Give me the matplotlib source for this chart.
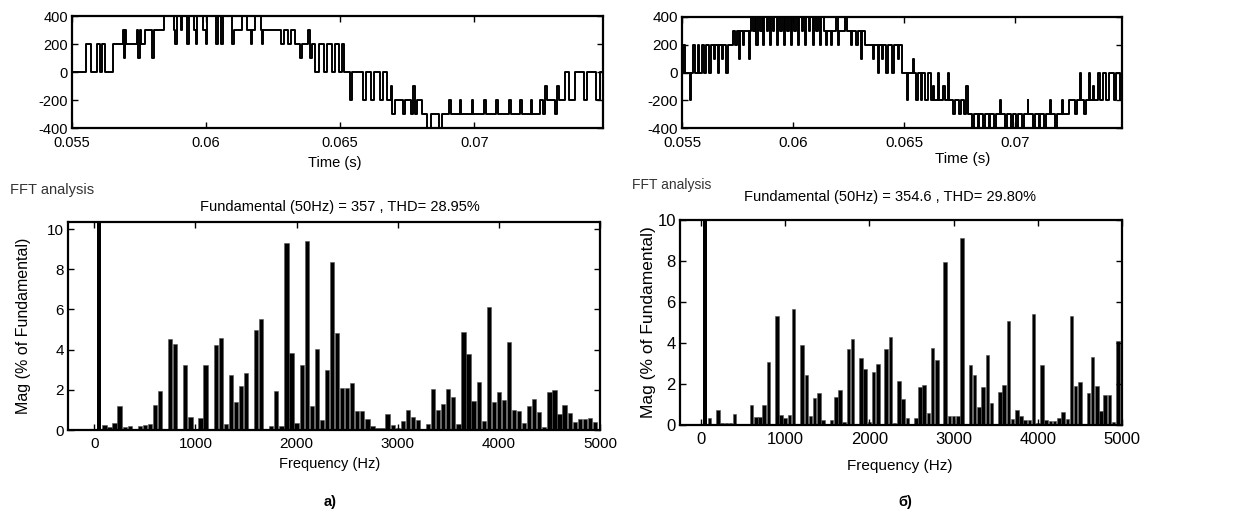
import numpy as np
import matplotlib
matplotlib.use("Agg")
import matplotlib.pyplot as plt

plt.rcParams['font.family'] = ['Liberation Sans', 'DejaVu Sans']
plt.rcParams['axes.unicode_minus'] = False

# ---- waveform a): step times (ms after 0.055 s) and levels (V)
wave_a_ms = [0.00, 0.54, 0.70, 0.93, 1.05, 1.12, 1.22, 1.54, 1.90, 1.94,
             1.99, 2.03, 2.43, 2.47, 2.53, 2.58, 2.74, 2.98, 3.05, 3.44,
             3.80, 3.85, 3.90, 4.05, 4.11, 4.30, 4.35, 4.56, 4.62, 4.66,
             4.87, 5.00, 5.05, 5.38, 5.44, 5.56, 5.62, 5.98, 6.03, 6.33,
             6.52, 6.68, 6.73, 6.84, 7.03, 7.07, 7.12, 7.78, 7.90, 8.05,
             8.15, 8.30, 8.50, 8.56, 8.80, 8.88, 8.95, 9.05, 9.20, 9.40,
             9.50, 9.70, 9.80, 9.95, 10.05, 10.15, 10.35, 10.45, 10.85, 10.95,
             11.15, 11.25, 11.50, 11.60, 11.75, 11.88, 11.95, 12.05, 12.35, 12.42,
             12.65, 12.72, 12.80, 12.88, 13.05, 13.25, 13.40, 13.70, 13.78, 14.05,
             14.12, 14.45, 14.52, 14.90, 14.97, 15.35, 15.42, 15.80, 15.87, 16.30,
             16.37, 16.70, 16.77, 17.10, 17.17, 17.45, 17.55, 17.65, 17.72, 18.00,
             18.08, 18.15, 18.40, 18.55, 18.75, 19.10, 19.20, 19.55, 19.70, 19.95,
             20.00]
wave_a_v = [0, 200, 0, 200, 0, 200, 0, 200, 300, 100,
            300, 200, 300, 100, 300, 200, 300, 100, 300, 400,
            300, 200, 400, 300, 400, 200, 400, 300, 200, 400,
            300, 200, 400, 200, 400, 200, 400, 200, 300, 400,
            300, 200, 300, 400, 300, 200, 300, 200, 300, 200,
            300, 200, 100, 200, 300, 100, 200, 0, 200, 0,
            200, 0, 200, 0, 200, 0, -200, 0, -200, 0,
            -200, 0, -200, 0, -200, -100, -300, -200, -300, -200,
            -300, -100, -300, -200, -300, -400, -300, -400, -300, -200,
            -300, -200, -300, -200, -300, -200, -300, -200, -300, -200,
            -300, -200, -300, -200, -300, -200, -300, -100, -200, -300,
            -100, -200, 0, -200, 0, -200, 0, -200, 0, -200,
            -200]

# ---- waveform б)
wave_b_ms = [0.00, 0.06, 0.14, 0.36, 0.40, 0.50, 0.58, 0.70, 0.76, 0.88,
             0.98, 1.08, 1.20, 1.30, 1.42, 1.48, 1.60, 1.66, 1.80, 1.85,
             2.00, 2.06, 2.30, 2.40, 2.46, 2.55, 2.60, 2.75, 2.80, 3.00,
             3.05, 3.10, 3.18, 3.28, 3.34, 3.40, 3.52, 3.58, 3.66, 3.71,
             3.82, 3.88, 3.96, 4.01, 4.10, 4.16, 4.26, 4.31, 4.42, 4.48,
             4.58, 4.63, 4.74, 4.80, 4.90, 4.95, 5.05, 5.12, 5.22, 5.27,
             5.38, 5.44, 5.55, 5.60, 5.72, 5.78, 5.88, 5.93, 6.05, 6.12,
             6.22, 6.27, 6.40, 6.48, 6.53, 6.70, 6.75, 6.95, 7.02, 7.07,
             7.35, 7.42, 7.60, 7.65, 7.85, 7.90, 8.05, 8.12, 8.25, 8.60,
             8.66, 8.80, 8.88, 9.00, 9.06, 9.20, 9.28, 9.45, 9.55, 9.70,
             9.76, 9.90, 10.12, 10.18, 10.40, 10.44, 10.55, 10.62, 10.75, 10.82,
             10.95, 11.05, 11.20, 11.30, 11.36, 11.50, 11.58, 11.75, 11.82, 11.95,
             12.00, 12.20, 12.28, 12.45, 12.55, 12.70, 12.80, 12.85, 13.05, 13.12,
             13.30, 13.38, 13.55, 13.62, 13.80, 13.88, 14.05, 14.12, 14.30, 14.34,
             14.55, 14.62, 14.80, 14.88, 15.05, 15.12, 15.30, 15.38, 15.55, 15.59,
             15.80, 15.88, 16.05, 16.12, 16.30, 16.38, 16.55, 16.59, 16.80, 16.88,
             17.10, 17.14, 17.40, 17.70, 17.76, 17.90, 17.95, 18.10, 18.16, 18.30,
             18.36, 18.50, 18.56, 18.70, 18.80, 18.95, 19.10, 19.20, 19.45, 19.55,
             19.70, 19.78, 19.95, 20.00]
wave_b_v = [0, 200, 0, -200, 0, 200, 0, 200, 0, 200,
            0, 200, 0, 200, 100, 200, 0, 200, 100, 200,
            0, 200, 300, 200, 300, 100, 300, 200, 300, 100,
            300, 400, 300, 400, 200, 400, 300, 400, 200, 400,
            300, 400, 200, 400, 300, 400, 200, 400, 300, 400,
            200, 400, 300, 400, 200, 400, 300, 400, 200, 400,
            300, 400, 200, 400, 300, 400, 200, 400, 300, 400,
            200, 400, 300, 200, 300, 200, 300, 400, 200, 300,
            400, 300, 200, 300, 200, 300, 100, 300, 200, 100,
            200, 0, 200, 100, 200, 0, 200, 0, 200, 100,
            200, 0, -200, 0, 100, 0, -200, 0, -200, 0,
            -200, 0, -200, -100, -200, 0, -200, -100, -200, 0,
            -200, -300, -200, -300, -200, -300, -100, -300, -400, -300,
            -400, -300, -400, -300, -400, -300, -400, -300, -200, -300,
            -400, -300, -400, -300, -400, -300, -400, -300, -200, -300,
            -400, -300, -400, -300, -400, -300, -200, -300, -400, -300,
            -200, -300, -200, -300, -200, 0, -200, -300, -200, 0,
            -200, -100, -200, 0, -200, 0, -200, 0, -200, 0,
            -200, 0, -200, -200]

# ---- FFT: fundamental (50 Hz) plus harmonics 100..4950 Hz, % of fundamental
fund_pct = 100.0
harm_a = [0.25, 0.15, 0.35, 1.2, 0.15, 0.2, 0.05, 0.2, 0.25, 0.3,
          1.25, 1.95, 0.05, 4.55, 4.3, 0.05, 3.25, 0.65, 0.05,
          0.6, 3.25, 0.05, 4.25, 4.6, 0.3, 2.75, 1.4, 2.2, 2.85,
          0.05, 5.0, 5.5, 0.05, 0.2, 1.95, 0.2, 9.3, 3.85, 0.35,
          3.25, 9.4, 1.2, 4.05, 0.5, 3.0, 8.35, 4.85, 2.1, 2.1,
          2.35, 0.95, 0.95, 0.55, 0.2, 0.1, 0.1, 0.8, 0.25, 0.1,
          0.45, 1.0, 0.65, 0.5, 0.05, 0.3, 2.05, 1.0, 1.3, 2.05,
          1.65, 0.3, 4.9, 3.8, 1.45, 2.4, 0.45, 6.1, 1.4, 1.9,
          1.5, 4.4, 1.0, 0.95, 0.35, 1.2, 1.55, 0.9, 0.15, 1.9,
          2.0, 0.8, 1.25, 0.85, 0.4, 0.55, 0.55, 0.6, 0.4]
harm_b = [0.35, 0.05, 0.75, 0.1, 0.1, 0.1, 0.55, 0.05, 0.05, 0.05,
          1.0, 0.38, 0.4, 1.0, 3.05, 0.02, 5.3, 0.5, 0.35,
          0.5, 5.65, 0.02, 3.9, 2.45, 0.45, 1.3, 1.55, 0.25, 0.05,
          0.25, 1.35, 1.7, 0.15, 3.7, 4.2, 0.05, 3.25, 2.75, 0.15,
          2.6, 3.0, 0.05, 3.7, 4.3, 0.1, 2.15, 1.25, 0.35, 0.02,
          0.35, 1.85, 1.95, 0.6, 3.75, 3.15, 0.05, 7.95, 0.45, 0.45,
          0.45, 9.1, 0.05, 2.95, 2.45, 0.9, 1.85, 3.4, 1.05, 0.05,
          1.6, 1.95, 5.05, 0.3, 0.75, 0.45, 0.25, 0.25, 5.4, 0.1,
          2.95, 0.25, 0.2, 0.2, 0.35, 0.65, 0.3, 5.3, 1.9, 2.1,
          0.05, 1.55, 3.3, 1.9, 0.7, 1.45, 1.45, 0.15, 4.1]

titles = ["Fundamental (50Hz) = 357 , THD= 28.95%",
          "Fundamental (50Hz) = 354.6 , THD= 29.80%"]
panel_tags = ["a)", "б)"]

W, H = 1239, 520
fig = plt.figure(figsize=(W / 100, H / 100), dpi=100)


def axes_px(l, t, r, b):
    return fig.add_axes([l / W, 1 - b / H, (r - l) / W, (b - t) / H])


def ftext(x, y, s, **kw):
    fig.text(x / W, 1 - y / H, s, **kw)


def style(ax, size, xpad=3):
    ax.tick_params(direction='in', top=True, right=True, length=4, width=1,
                   labelsize=size, pad=3, colors='black')
    ax.tick_params(axis='x', pad=xpad)
    for sp in ax.spines.values():
        sp.set_linewidth(1.6)


# layout in pixels: (left, top, right, bottom)
wave_boxes = [(72, 16, 603, 128), (682, 17, 1122, 128)]
fft_boxes = [(68, 222, 600, 430), (680, 220, 1122, 425)]
fft_xlims = [(-260, 5000), (-250, 4950)]
fft_ytop = [10.35, 10.0]
fft_tick_size = [11, 12]

waves = [(wave_a_ms, wave_a_v), (wave_b_ms, wave_b_v)]
harms = [harm_a, harm_b]

for i in range(2):
    # time-domain waveform
    ax = axes_px(*wave_boxes[i])
    t_ms, lvl = waves[i]
    t = 0.055 + np.array(t_ms) / 1000.0
    ax.step(t, lvl, where='post', color='black', lw=1.4)
    ax.set_xlim(0.055, 0.0748)
    ax.set_ylim(-400, 400)
    ax.set_xticks([0.055, 0.06, 0.065, 0.07])
    ax.set_xticklabels(['0.055', '0.06', '0.065', '0.07'])
    ax.set_yticks([-400, -200, 0, 200, 400])
    style(ax, 10.5 + i * 0.5, xpad=6)

    # FFT bar chart
    bx = axes_px(*fft_boxes[i])
    freqs = np.arange(100, 100 + 50 * len(harms[i]), 50)
    bx.bar([50], [fund_pct], width=42, color='black')
    bx.bar(freqs, harms[i], width=42, color='black', edgecolor='#555555', linewidth=0.4)
    bx.set_xlim(*fft_xlims[i])
    bx.set_ylim(0, fft_ytop[i])
    bx.set_xticks([0, 1000, 2000, 3000, 4000, 5000])
    bx.set_yticks([0, 2, 4, 6, 8, 10])
    style(bx, fft_tick_size[i], xpad=5)

# texts
ftext(335, 163, "Time (s)", ha='center', va='center', fontsize=10.5)
ftext(963, 159, "Time (s)", ha='center', va='center', fontsize=11)

ftext(10, 190, "FFT analysis", ha='left', va='center', fontsize=10.5, color='#333333')
ftext(632, 185, "FFT analysis", ha='left', va='center', fontsize=10, color='#333333')

ftext(340, 207, titles[0], ha='center', va='center', fontsize=10.5)
ftext(890, 197, titles[1], ha='center', va='center', fontsize=10.5)

ftext(24, 326, "Mag (% of Fundamental)", ha='center', va='center', rotation=90, fontsize=11.5)
ftext(648, 322, "Mag (% of Fundamental)", ha='center', va='center', rotation=90, fontsize=12.5)

ftext(330, 464, "Frequency (Hz)", ha='center', va='center', fontsize=10.5)
ftext(900, 466, "Frequency (Hz)", ha='center', va='center', fontsize=11)

ftext(330, 502, panel_tags[0], ha='center', va='center', fontsize=10.5, fontweight='bold')
ftext(905, 502, panel_tags[1], ha='center', va='center', fontsize=10.5, fontweight='bold')

fig.savefig('out.png', dpi=100)
